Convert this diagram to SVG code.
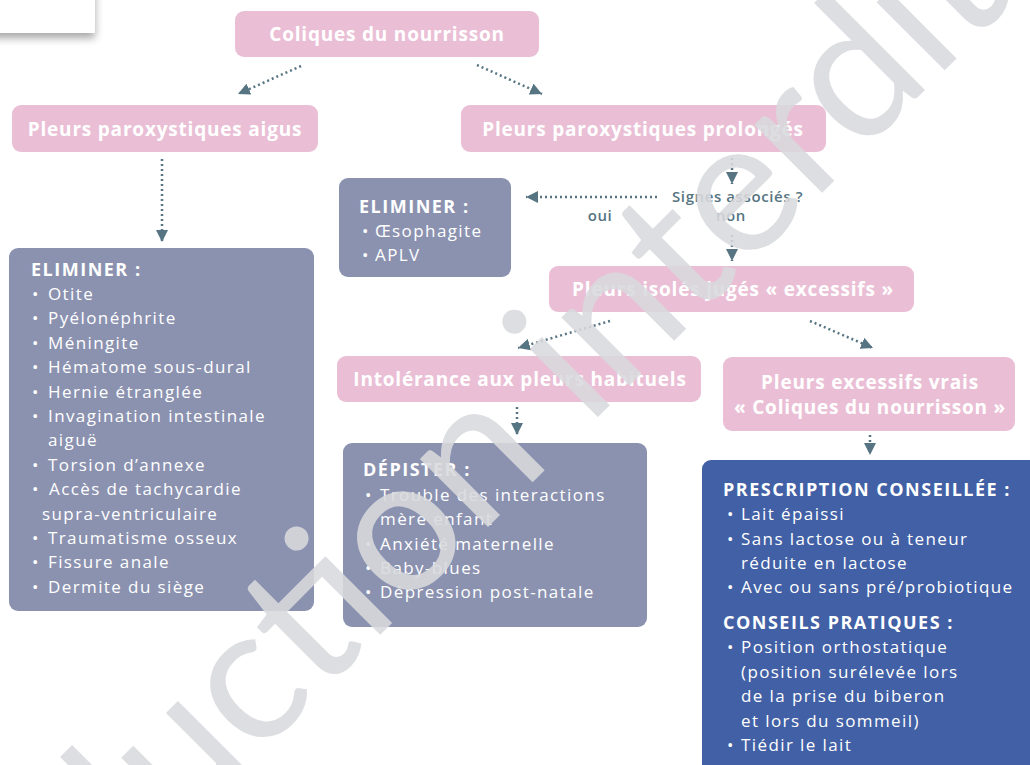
<svg xmlns="http://www.w3.org/2000/svg" width="1030" height="765" viewBox="0 0 1030 765">
<style>
.pink{fill:#eabfd6}
.slate{fill:#8b92b0}
.blue{fill:#4160a5}
.t{font-family:"Open Sans","Liberation Sans",sans-serif;font-weight:700;font-size:19px;letter-spacing:0.8px;fill:#fff;text-anchor:middle}
.h{font-family:"Open Sans","Liberation Sans",sans-serif;font-weight:700;font-size:18px;letter-spacing:1.5px;fill:#fff}
.b{font-family:"Open Sans","Liberation Sans",sans-serif;font-weight:400;font-size:17px;letter-spacing:1.4px;fill:#fff}
.lbl{font-family:"Open Sans","Liberation Sans",sans-serif;font-weight:600;font-size:15px;letter-spacing:0.6px;fill:#567482}
.c{fill:none;stroke:#567482;stroke-width:2.5;stroke-dasharray:2 3}
.wm{font-family:Lato,"Open Sans",sans-serif;font-weight:400;font-size:190px;fill:#d9dadd;opacity:0.88}
</style>
<defs>
<marker id="ah" markerWidth="12" markerHeight="12" refX="10" refY="5" orient="auto" markerUnits="userSpaceOnUse" viewBox="0 0 10 10">
<path d="M0,0 L10,5 L0,10 z" fill="#567482"/>
</marker>
<filter id="sh" x="-20%" y="-50%" width="150%" height="250%">
<feDropShadow dx="0" dy="5" stdDeviation="4" flood-color="#000" flood-opacity="0.35"/>
</filter>
</defs>
<rect width="1030" height="765" fill="#fff"/>
<rect x="-20" y="-20" width="115" height="53" fill="#fff" filter="url(#sh)"/>

<g id="connectors">
<line class="c" x1="301" y1="66" x2="238" y2="94" marker-end="url(#ah)"/>
<line class="c" x1="477" y1="65" x2="542" y2="94" marker-end="url(#ah)"/>
<line class="c" x1="162" y1="159" x2="162" y2="242" marker-end="url(#ah)"/>
<line class="c" x1="732" y1="158" x2="732" y2="184" marker-end="url(#ah)"/>
<line class="c" x1="657" y1="197" x2="526" y2="197" marker-end="url(#ah)"/>
<line class="c" x1="732" y1="235" x2="732" y2="261" marker-end="url(#ah)"/>
<line class="c" x1="610" y1="321" x2="518" y2="348" marker-end="url(#ah)"/>
<line class="c" x1="810" y1="321" x2="873" y2="348" marker-end="url(#ah)"/>
<line class="c" x1="517" y1="407" x2="517" y2="435" marker-end="url(#ah)"/>
<line class="c" x1="870" y1="435" x2="870" y2="455" marker-end="url(#ah)"/>
<text class="lbl" x="672" y="202">Signes associés ?</text>
<text class="lbl" x="600" y="221" text-anchor="middle">oui</text>
<text class="lbl" x="731" y="221" text-anchor="middle">non</text>
</g>

<g id="n-coliques">
<rect class="pink" x="235" y="11" width="304" height="46" rx="9"/>
<text class="t" x="387" y="41">Coliques du nourrisson</text>
</g>
<g id="n-aigus">
<rect class="pink" x="12" y="105" width="306" height="47" rx="9"/>
<text class="t" x="165" y="136">Pleurs paroxystiques aigus</text>
</g>
<g id="n-prolonges">
<rect class="pink" x="461" y="105" width="365" height="47" rx="9"/>
<text class="t" x="643" y="136">Pleurs paroxystiques prolongés</text>
</g>
<g id="n-eliminer2">
<rect class="slate" x="339" y="178" width="172" height="99" rx="9"/>
<text class="h" x="359" y="213">ELIMINER :</text>
<text class="b" x="362" y="237">•<tspan x="375">Œsophagite</tspan></text>
<text class="b" x="362" y="261">•<tspan x="375">APLV</tspan></text>
</g>
<g id="n-isoles">
<rect class="pink" x="549" y="266" width="365" height="46" rx="9"/>
<text class="t" x="733" y="296">Pleurs isolés jugés « excessifs »</text>
</g>
<g id="n-intolerance">
<rect class="pink" x="337" y="356" width="364" height="46" rx="9"/>
<text class="t" x="520" y="386">Intolérance aux pleurs habituels</text>
</g>
<g id="n-vrais">
<rect class="pink" x="723" y="357" width="292" height="74" rx="9"/>
<text class="t" x="870" y="389">Pleurs excessifs vrais</text>
<text class="t" x="870" y="414">« Coliques du nourrisson »</text>
</g>
<g id="n-eliminer1">
<rect class="slate" x="9" y="248" width="305" height="363" rx="9"/>
<text class="h" x="31" y="276">ELIMINER :</text>
<text class="b" x="32" y="300">•<tspan x="48">Otite</tspan></text>
<text class="b" x="32" y="324.4">•<tspan x="48">Pyélonéphrite</tspan></text>
<text class="b" x="32" y="348.8">•<tspan x="48">Méningite</tspan></text>
<text class="b" x="32" y="373.2">•<tspan x="48">Hématome sous-dural</tspan></text>
<text class="b" x="32" y="397.6">•<tspan x="48">Hernie étranglée</tspan></text>
<text class="b" x="32" y="422">•<tspan x="48">Invagination intestinale</tspan></text>
<text class="b" x="48" y="446.4">aiguë</text>
<text class="b" x="32" y="470.8">•<tspan x="48">Torsion d’annexe</tspan></text>
<text class="b" x="32" y="495.2">•<tspan x="49">Accès de tachycardie</tspan></text>
<text class="b" x="42" y="519.6">supra-ventriculaire</text>
<text class="b" x="32" y="544">•<tspan x="48">Traumatisme osseux</tspan></text>
<text class="b" x="32" y="568.4">•<tspan x="48">Fissure anale</tspan></text>
<text class="b" x="32" y="592.8">•<tspan x="48">Dermite du siège</tspan></text>
</g>
<g id="n-depister">
<rect class="slate" x="343" y="443" width="304" height="184" rx="9"/>
<text class="h" x="363" y="476">DÉPISTER :</text>
<text class="b" x="365" y="501">•<tspan x="380">Trouble des interactions</tspan></text>
<text class="b" x="380" y="525">mère enfant</text>
<text class="b" x="365" y="550">•<tspan x="380">Anxiété maternelle</tspan></text>
<text class="b" x="365" y="574">•<tspan x="380">Baby-blues</tspan></text>
<text class="b" x="365" y="598">•<tspan x="380">Dépression post-natale</tspan></text>
</g>
<g id="n-prescription">
<rect class="blue" x="702" y="460" width="350" height="330" rx="9"/>
<text class="h" x="723" y="496">PRESCRIPTION CONSEILLÉE :</text>
<text class="b" x="727" y="520">•<tspan x="741">Lait épaissi</tspan></text>
<text class="b" x="727" y="545">•<tspan x="741">Sans lactose ou à teneur</tspan></text>
<text class="b" x="741" y="569">réduite en lactose</text>
<text class="b" x="727" y="593">•<tspan x="741">Avec ou sans pré/probiotique</tspan></text>
<text class="h" x="723" y="629">CONSEILS PRATIQUES :</text>
<text class="b" x="727" y="653">•<tspan x="741">Position orthostatique</tspan></text>
<text class="b" x="741" y="678">(position surélevée lors</text>
<text class="b" x="741" y="702">de la prise du biberon</text>
<text class="b" x="741" y="727">et lors du sommeil)</text>
<text class="b" x="727" y="751">•<tspan x="741">Tiédir le lait</tspan></text>
</g>

<g id="watermark">
<text class="wm" transform="translate(715,300) rotate(-45)" x="-1355" y="0">Reproduction interdite</text>
</g>
</svg>
